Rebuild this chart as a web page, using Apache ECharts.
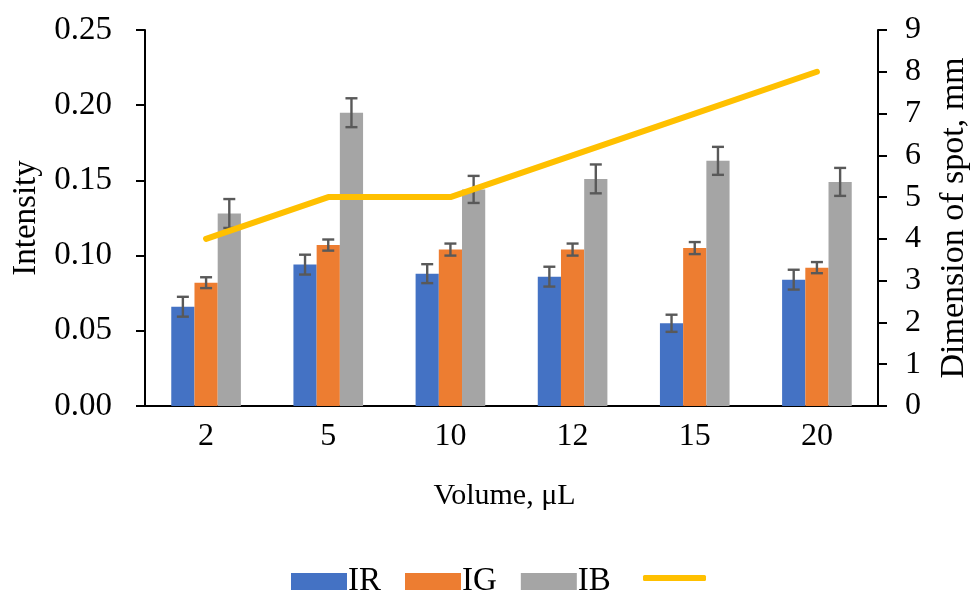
<!DOCTYPE html>
<html>
<head>
<meta charset="utf-8">
<script src="https://cdn.jsdelivr.net/npm/echarts@6/dist/echarts.min.js"></script>
<style>
  html, body { margin: 0; padding: 0; background: #fff; }
  #chart { width: 979px; height: 592px; }
</style>
</head>
<body>
<div id="chart"></div>
<script>
// Volumes (µL) on the category axis
const volumes = ['2', '5', '10', '12', '15', '20'];

// Channel intensities and their error half-widths
const irValues = [0.066, 0.094, 0.088, 0.086, 0.055, 0.084];
const irErrors = [0.0066, 0.0066, 0.0063, 0.0066, 0.0057, 0.0066];
const igValues = [0.082, 0.107, 0.104, 0.104, 0.105, 0.092];
const igErrors = [0.0036, 0.0037, 0.0040, 0.0040, 0.0040, 0.0037];
const ibValues = [0.128, 0.195, 0.144, 0.151, 0.163, 0.149];
const ibErrors = [0.0096, 0.0096, 0.0090, 0.0096, 0.0093, 0.0093];

// Spot dimension (mm) on the right axis
const spotValues = [4, 5, 5, 6, 7, 8];

const FONT = '"Liberation Serif", "Times New Roman", serif';
const CATEGORY_GAP = 0.43;       // share of each band left empty
const BAR_SHARE = (1 - CATEGORY_GAP) / 3;

const chart = echarts.init(document.getElementById('chart'), null, { renderer: 'canvas' });

function errorSeries(name, values, errors, slot) {
  return {
    type: 'custom',
    name: name + ' error',
    yAxisIndex: 0,
    z: 5,
    silent: true,
    data: values.map((v, i) => [i, v, errors[i]]),
    renderItem: function (params, api) {
      const idx = api.value(0);
      const band = api.size([1, 0])[0];
      const offset = (slot - 1) * band * BAR_SHARE;
      const top = api.coord([idx, api.value(1) + api.value(2)]);
      const bottom = api.coord([idx, api.value(1) - api.value(2)]);
      const x = top[0] + offset;
      const half = 6;
      const style = { stroke: '#595959', lineWidth: 2.4 };
      return {
        type: 'group',
        children: [
          { type: 'line', shape: { x1: x, y1: top[1], x2: x, y2: bottom[1] }, style: style },
          { type: 'line', shape: { x1: x - half, y1: top[1], x2: x + half, y2: top[1] }, style: style },
          { type: 'line', shape: { x1: x - half, y1: bottom[1], x2: x + half, y2: bottom[1] }, style: style }
        ]
      };
    }
  };
}

const legendText = { fontFamily: FONT, fontSize: 33, color: '#000', padding: [0, 0, 0, -4] };

const option = {
  backgroundColor: '#ffffff',
  animation: false,
  textStyle: { fontFamily: FONT, color: '#000' },
  grid: { left: 145, right: 97, top: 30, bottom: 186, containLabel: false },
  legend: [
    {
      top: 560,
      left: 286,
      itemWidth: 56,
      itemHeight: 17,
      itemGap: 24,
      textStyle: legendText,
      data: [
        { name: 'IR', icon: 'rect' },
        { name: 'IG', icon: 'rect' },
        { name: 'IB', icon: 'rect' }
      ]
    },
    {
      top: 575,
      left: 643,
      padding: 0,
      itemWidth: 63,
      itemHeight: 6,
      textStyle: legendText,
      data: [{ name: 'Spot', icon: 'roundRect' }],
      formatter: function () { return ''; }
    }
  ],
  xAxis: {
    type: 'category',
    data: volumes,
    name: 'Volume, \u03bcL',
    nameLocation: 'middle',
    nameGap: 75,
    nameTextStyle: { fontFamily: FONT, fontSize: 30, color: '#000', padding: [0, 14, 0, 0] },
    axisLine: { lineStyle: { color: '#000', width: 2 } },
    axisTick: { show: false },
    axisLabel: { fontFamily: FONT, fontSize: 32, color: '#000', margin: 15 },
    splitLine: { show: false }
  },
  yAxis: [
    {
      type: 'value',
      min: 0,
      max: 0.25,
      interval: 0.05,
      name: 'Intensity',
      nameLocation: 'middle',
      nameGap: 102,
      nameTextStyle: { fontFamily: FONT, fontSize: 33, color: '#000' },
      axisLine: { show: true, lineStyle: { color: '#000', width: 2 } },
      axisTick: { show: true, inside: false, length: 9, lineStyle: { color: '#000', width: 2 } },
      axisLabel: {
        fontFamily: FONT, fontSize: 33, color: '#000', margin: 33,
        formatter: v => v.toFixed(2)
      },
      splitLine: { show: false }
    },
    {
      type: 'value',
      min: 0,
      max: 9,
      interval: 1,
      position: 'right',
      name: 'Dimension of spot, mm',
      nameLocation: 'middle',
      nameGap: 59,
      nameRotate: 90,
      nameTextStyle: { fontFamily: FONT, fontSize: 34, color: '#000' },
      axisLine: { show: true, lineStyle: { color: '#000', width: 2 } },
      axisTick: { show: true, inside: false, length: 9, lineStyle: { color: '#000', width: 2 } },
      axisLabel: { fontFamily: FONT, fontSize: 32, color: '#000', margin: 27 },
      splitLine: { show: false }
    }
  ],
  series: [
    {
      name: 'IR', type: 'bar', data: irValues, yAxisIndex: 0,
      barGap: '0%', barCategoryGap: (CATEGORY_GAP * 100) + '%',
      itemStyle: { color: '#4472C4' }
    },
    {
      name: 'IG', type: 'bar', data: igValues, yAxisIndex: 0,
      barGap: '0%', barCategoryGap: (CATEGORY_GAP * 100) + '%',
      itemStyle: { color: '#ED7D31' }
    },
    {
      name: 'IB', type: 'bar', data: ibValues, yAxisIndex: 0,
      barGap: '0%', barCategoryGap: (CATEGORY_GAP * 100) + '%',
      itemStyle: { color: '#A5A5A5' }
    },
    errorSeries('IR', irValues, irErrors, 0),
    errorSeries('IG', igValues, igErrors, 1),
    errorSeries('IB', ibValues, ibErrors, 2),
    {
      name: 'Spot', type: 'line', data: spotValues, yAxisIndex: 1,
      symbol: 'none', z: 10,
      lineStyle: { color: '#FFC000', width: 6, cap: 'round', join: 'round' },
      itemStyle: { color: '#FFC000' }
    }
  ]
};

chart.setOption(option);
</script>
</body>
</html>
